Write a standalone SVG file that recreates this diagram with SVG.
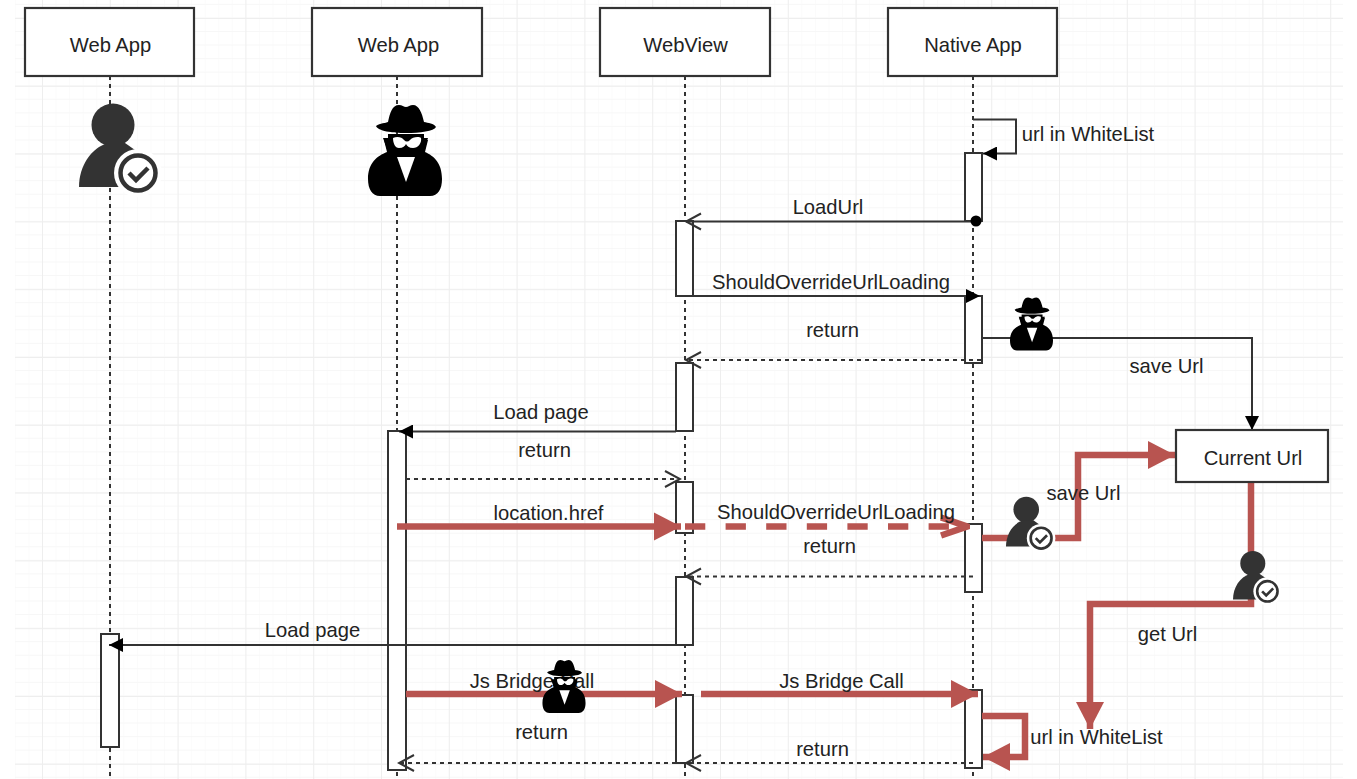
<svg xmlns="http://www.w3.org/2000/svg" xmlns:xlink="http://www.w3.org/1999/xlink" width="1357" height="779" viewBox="0 0 1357 779">
<style>
text{font-family:"Liberation Sans",Arial,sans-serif;font-size:20.200px;fill:#222;text-anchor:middle}
.box{fill:#fff;stroke:#333;stroke-width:2.200}
.act{fill:#fff;stroke:#333;stroke-width:2}
.life{fill:none;stroke:#333;stroke-width:2;stroke-dasharray:4 4}
.k{fill:none;stroke:#333;stroke-width:2}
.kd{fill:none;stroke:#333;stroke-width:2;stroke-dasharray:4 4}
.r{fill:none;stroke:#b85450;stroke-width:6.500}
.rd{fill:none;stroke:#b85450;stroke-width:6.500;stroke-dasharray:20.300 20.300}
</style>
<defs>
<pattern id="gm" x="1.3" y="0" width="13.56" height="13.56" patternUnits="userSpaceOnUse"><path d="M0 0V13.56M0 4.4H13.56" fill="none" stroke="#f7f7f7" stroke-width="1"/></pattern>
<pattern id="gM" x="42" y="18" width="67.8" height="67.8" patternUnits="userSpaceOnUse"><path d="M0 0V67.8M0 0H67.8" fill="none" stroke="#eeeeee" stroke-width="2"/></pattern>
<marker id="fill" markerUnits="userSpaceOnUse" markerWidth="16" markerHeight="14" refX="14" refY="7" orient="auto"><path d="M0 0L14 7L0 14Z" fill="#000"/></marker>
<marker id="open" markerUnits="userSpaceOnUse" markerWidth="18" markerHeight="20" refX="16" refY="10" orient="auto"><path d="M1 2L16 10L1 18" fill="none" stroke="#333" stroke-width="2"/></marker>
<marker id="red" markerUnits="userSpaceOnUse" markerWidth="28" markerHeight="30" refX="27" refY="15" orient="auto"><path d="M0 1L27 15L0 29Z" fill="#b85450"/></marker>
<marker id="redo" markerUnits="userSpaceOnUse" markerWidth="30" markerHeight="26" refX="28" refY="13" orient="auto"><path d="M1 4L27 13L1 22" fill="none" stroke="#b85450" stroke-width="6.500"/></marker>
<symbol id="spy" viewBox="0 0 74 91" overflow="visible">
<path d="M8 21C12 18 18 18 20 17C22 8 24 0 31 0C34 0 36 2 38 2C40 2 42 0 45 0C51 0 54 8 56 17C60 18 66 18 68 22C66 26 52 28 38 28C24 28 10 26 8 21Z" fill="#000"/>
<path d="M20 29H56V34L60 35L57 47C66 51 74 58 74 74C74 84 70 91 62 91H12C4 91 0 84 0 74C0 58 9 51 19 47L16 35L20 34Z" fill="#000"/>
<path d="M15 33H60L54 49H21Z" fill="#000"/>
<path d="M25 33C29 31 34 32 36 35C38 37 40 37 42 35C44 32 51 31 53 33C54 38 50 43 45 43C41 43 39 41 38 39C37 41 35 43 31 43C27 43 25 38 25 33Z" fill="#fff"/>
<path d="M29 52H47L38 77Z" fill="#fff"/>
</symbol>
<symbol id="user" viewBox="0 0 79 87" overflow="visible">
<circle cx="34" cy="21" r="21.5" fill="#333"/>
<path d="M0 83C0 62 12 44 29 39H46L56 46L46 83Z" fill="#333"/>
<circle cx="59" cy="69" r="24" fill="#fff"/>
<circle cx="59" cy="69" r="17.500" fill="#fff" stroke="#333" stroke-width="4.500"/>
<path d="M50 69L57 76L69 64" fill="none" stroke="#333" stroke-width="4.500"/>
</symbol>
</defs>
<rect width="1357" height="779" fill="#fff"/>
<rect x="15" y="0" width="1328" height="779" fill="url(#gm)"/>
<rect x="15" y="0" width="1328" height="779" fill="url(#gM)"/>

<g id="lifelines">
<path class="life" d="M110 76V779"/>
<path class="life" d="M397 76V779"/>
<path class="life" d="M685 76V779"/>
<path class="life" d="M973 76V779"/>
</g>

<g id="actor-webapp-1"><rect class="box" x="25" y="8" width="169" height="68"/><text x="110.500" y="52">Web App</text></g>
<g id="actor-webapp-2"><rect class="box" x="312" y="8" width="170" height="68"/><text x="398.500" y="52">Web App</text></g>
<g id="actor-webview"><rect class="box" x="600" y="8" width="170" height="68"/><text x="685.500" y="52">WebView</text></g>
<g id="actor-native"><rect class="box" x="888" y="8" width="169" height="68"/><text x="973" y="52">Native App</text></g>

<g id="activations">
<rect class="act" x="965" y="153" width="17" height="68"/>
<rect class="act" x="965" y="296" width="17" height="67"/>
<rect class="act" x="965" y="524" width="17" height="68"/>
<rect class="act" x="965" y="690" width="17" height="78"/>
<rect class="act" x="676" y="221" width="17" height="75"/>
<rect class="act" x="676" y="363" width="17" height="68"/>
<rect class="act" x="676" y="482" width="17" height="51"/>
<rect class="act" x="676" y="577" width="17" height="68"/>
<rect class="act" x="676" y="695" width="17" height="68"/>
<rect class="act" x="388" y="431" width="18" height="339"/>
<rect class="act" x="101" y="634" width="18" height="113"/>
</g>

<g id="connectors">
<path class="k" d="M973 119.500H1016V153.500H983" marker-end="url(#fill)"/>
<path class="k" d="M976 221.500H686" marker-end="url(#open)"/>
<circle cx="976" cy="221" r="5.500" fill="#000"/>
<path class="k" d="M693 296H980" marker-end="url(#fill)"/>
<path class="kd" d="M981 360H686" marker-end="url(#open)"/>
<path class="k" d="M982 338H1252V430" marker-end="url(#fill)"/>
<path class="k" d="M676 431.500H399" marker-end="url(#fill)"/>
<path class="kd" d="M406 479H680" marker-end="url(#open)"/>
<path class="kd" d="M973 576.500H686" marker-end="url(#open)"/>
<path class="k" d="M676 645H109" marker-end="url(#fill)"/>
<path class="kd" d="M973 763H686" marker-end="url(#open)"/>
<path class="kd" d="M676 763H399" marker-end="url(#open)"/>
<path class="r" d="M397 526.500H681" marker-end="url(#red)"/>
<path class="rd" d="M685 526.500H968" marker-end="url(#redo)"/>
<path class="r" d="M982 538H1078V455H1175" marker-end="url(#red)"/>
<path class="r" d="M1251 482V604H1090V729" marker-end="url(#red)"/>
<path class="r" d="M406 694H682" marker-end="url(#red)"/>
<path class="r" d="M701 694H978" marker-end="url(#red)"/>
<path class="r" d="M982 716H1025V757H983" marker-end="url(#red)"/>
</g>

<g id="current-url"><rect class="box" x="1176" y="430" width="152" height="52"/><text x="1253" y="465">Current Url</text></g>

<g id="labels">
<text x="1088" y="141">url in WhiteList</text>
<text x="828" y="214">LoadUrl</text>
<text x="831" y="289">ShouldOverrideUrlLoading</text>
<text x="832.500" y="337">return</text>
<text x="1166.500" y="373">save Url</text>
<text x="541" y="419">Load page</text>
<text x="544.500" y="457">return</text>
<text x="548.500" y="520">location.href</text>
<text x="836" y="519">ShouldOverrideUrlLoading</text>
<text x="829.500" y="553">return</text>
<text x="1083.500" y="500">save Url</text>
<text x="1167.500" y="641">get Url</text>
<text x="312.500" y="637">Load page</text>
<text x="532" y="688">Js Bridge Call</text>
<text x="841.500" y="688">Js Bridge Call</text>
<text x="541.500" y="739">return</text>
<text x="822.500" y="756">return</text>
<text x="1096.500" y="744">url in WhiteList</text>
</g>

<g id="icon-user-1"><use xlink:href="#user" href="#user" x="79" y="104" width="79" height="87"/></g>
<g id="icon-spy-1"><use xlink:href="#spy" href="#spy" x="368" y="105" width="74" height="91"/></g>
<g id="icon-spy-2"><use xlink:href="#spy" href="#spy" x="1010" y="297" width="43" height="54"/></g>
<g id="icon-spy-3"><use xlink:href="#spy" href="#spy" x="542" y="660" width="44" height="53"/></g>
<g id="icon-user-2"><use xlink:href="#user" href="#user" x="1006" y="497" width="47" height="52"/></g>
<g id="icon-user-3"><use xlink:href="#user" href="#user" x="1233" y="551" width="46" height="51"/></g>
</svg>
